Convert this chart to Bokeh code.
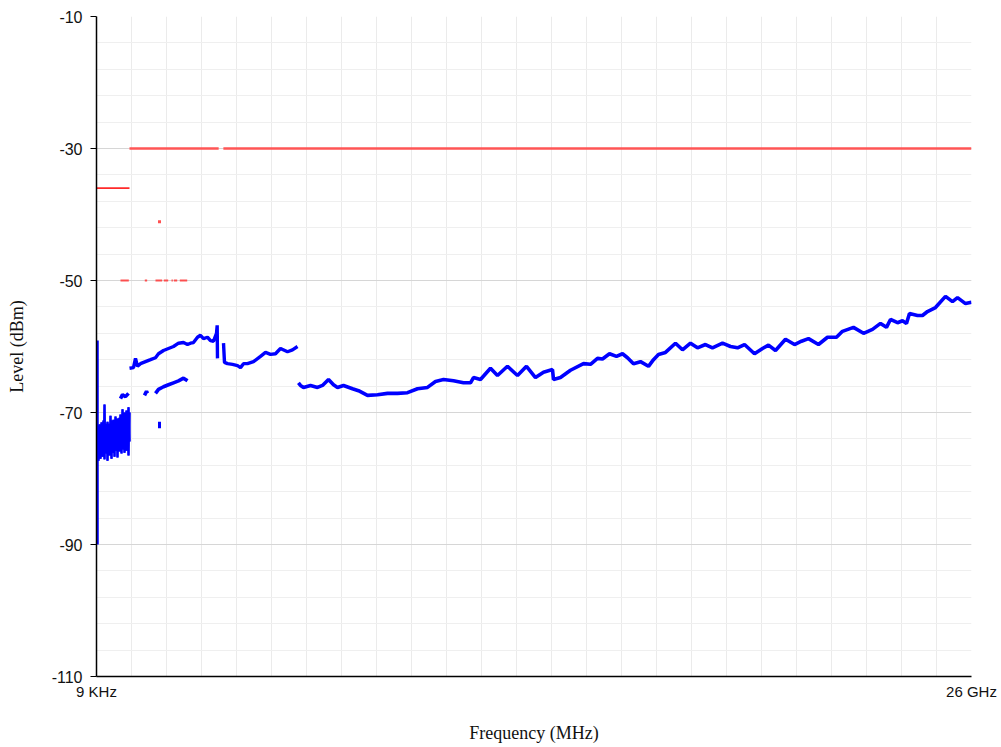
from bokeh.plotting import figure
from bokeh.models import Range1d, FixedTicker, CustomJSTickFormatter
from bokeh.embed import file_html
from bokeh.resources import INLINE

# ---------------- data (frequency in MHz, level in dBm) ----------------
band_mhz = [30, 59, 89, 119, 149, 178, 208, 238, 267, 297, 327, 357, 386, 416, 446, 475,
            505, 535, 565, 594, 624, 654, 683, 713, 743, 773, 802, 832, 862, 891, 921, 951, 981]
band_hi = [-72.0, -72.7, -71.8, -72.4, -71.5, -72.1, -71.2, -68.8, -71.7, -72.3, -71.4, -72.0,
           -71.7, -70.5, -71.2, -71.8, -71.1, -71.5, -70.6, -71.4, -70.9, -71.7, -70.8, -70.3,
           -71.2, -69.5, -70.3, -70.0, -70.9, -69.7, -70.2, -69.2, -70.0]
band_lo = [-76.5, -77.3, -76.1, -77.0, -75.5, -76.7, -75.8, -77.1, -75.3, -76.2, -77.3, -75.6,
           -76.5, -75.9, -77.0, -75.2, -76.1, -76.7, -75.5, -75.8, -76.8, -75.0, -75.9, -75.3,
           -76.2, -74.8, -75.6, -76.1, -75.0, -75.8, -75.3, -76.5, -74.4]
spike_mhz = [30, 30]
spike_db = [-59.1, -90.0]

b1_mhz = [981, 1099, 1159, 1218, 1307, 1456, 1605, 1753, 1842, 1991, 2139, 2288, 2437, 2585,
          2704, 2793, 2882, 3001, 3090, 3179, 3298, 3387, 3477, 3566, 3586, 3595]
b1_db = [-63.3, -63.2, -61.8, -63.0, -62.6, -62.3, -62.0, -61.7, -61.1, -60.6, -60.3, -60.0,
         -59.5, -59.4, -59.7, -59.5, -59.4, -58.6, -58.3, -58.8, -58.6, -59.1, -59.2, -58.0,
         -56.8, -61.8]
b2_mhz = [3774, 3803, 3893, 4041, 4190, 4279, 4368, 4487, 4665, 4873, 5022, 5170, 5319, 5467,
          5675, 5824, 5973]
b2_db = [-59.5, -62.4, -62.6, -62.7, -62.9, -63.2, -62.6, -62.6, -62.3, -61.5, -60.9, -61.2,
         -61.1, -60.3, -60.8, -60.5, -60.0]

main_mhz = [6000, 6062, 6151, 6359, 6567, 6715, 6894, 7042, 7161, 7339, 7607, 7785, 8053, 8350,
            8647, 8944, 9241, 9538, 9835, 10073, 10311, 10608, 10905, 11113, 11202, 11410,
            11707, 11915, 12212, 12510, 12777, 13044, 13282, 13550, 13579, 13787, 14084,
            14471, 14679, 14887, 15035, 15243, 15451, 15630, 15778, 15957, 16164, 16402,
            16551, 16699, 16907, 17204, 17412, 17650, 17858, 18095, 18303, 18601, 18839,
            19047, 19255, 19552, 19790, 19968, 20176, 20473, 20741, 20948, 21156, 21453,
            21721, 21988, 22166, 22493, 22791, 23058, 23296, 23474, 23593, 23801, 23950,
            24068, 24157, 24395, 24544, 24692, 24930, 25227, 25435, 25584, 25822, 26000]
main_db = [-65.5, -65.9, -66.2, -65.9, -66.2, -65.9, -65.0, -65.8, -66.2, -65.9, -66.4, -66.7,
           -67.4, -67.3, -67.1, -67.1, -67.0, -66.4, -66.2, -65.3, -65.0, -65.2, -65.5, -65.5,
           -64.7, -65.0, -63.3, -64.4, -63.0, -64.4, -63.0, -64.7, -63.9, -63.5, -65.0, -64.7,
           -63.6, -62.6, -62.7, -61.8, -61.9, -61.1, -61.5, -61.1, -61.7, -62.6, -62.3, -63.0,
           -62.0, -61.2, -60.9, -59.5, -60.5, -59.5, -60.2, -59.7, -60.2, -59.5, -60.0, -60.2,
           -59.7, -61.1, -60.3, -59.8, -60.6, -58.9, -59.7, -59.2, -58.8, -59.7, -58.6, -58.6,
           -57.7, -57.1, -58.0, -57.4, -56.5, -57.1, -55.9, -56.4, -56.1, -56.5, -55.0, -55.3,
           -55.3, -54.7, -54.1, -52.4, -53.2, -52.6, -53.5, -53.3]

frag1_mhz = [713, 773, 862, 951]
frag1_db = [-67.9, -67.3, -67.6, -67.1]
frag2_mhz = [1426, 1486, 1515]
frag2_db = [-67.4, -66.8, -67.1]
frag3_mhz = [1753, 1842, 1991, 2139, 2288, 2437, 2585, 2704]
frag3_db = [-67.1, -66.5, -66.1, -65.8, -65.5, -65.2, -64.8, -65.2]
blip_mhz = [1872, 1872]
blip_db = [-71.4, -72.4]

lim36_x0, lim36_x1, lim36_db = [0.009], [980], [-36]
lim30_x0 = [980, 3770]
lim30_x1 = [3630, 26000]
lim30_db = [-30, -30]
dash_x0 = [713, 1435, 1753, 2000, 2229, 2298, 2475]
dash_x1 = [960, 1505, 1951, 2130, 2268, 2398, 2695]
dash_db = [-50, -50, -50, -50, -50, -50, -50]
dot_mhz = [1872]
dot_db = [-41.1]

y_ticks = [-110, -90, -70, -50, -30, -10]
x_labels = ["9 KHz", "26 GHz"]

# ---------------- figure ----------------
X0, X1 = 0.009, 26000
p = figure(width=1000, height=746, x_range=Range1d(X0, X1), y_range=Range1d(-110, -10),
           output_backend="svg", toolbar_location=None,
           min_border_left=96, min_border_right=29, min_border_top=16, min_border_bottom=70)
p.outline_line_color = None
p.background_fill_color = "white"
p.border_fill_color = "white"

p.xaxis.ticker = FixedTicker(ticks=[X0, X1], minor_ticks=[])
p.xaxis.formatter = CustomJSTickFormatter(
    args=dict(a=x_labels[0], b=x_labels[1]), code="return tick < 1 ? a : b;")
p.yaxis.ticker = FixedTicker(ticks=y_ticks, minor_ticks=list(range(-110, -9, 4)))
p.yaxis.formatter = CustomJSTickFormatter(code="return String(Math.round(tick));")

for ax in (p.xaxis[0], p.yaxis[0]):
    ax.axis_line_color = "black"
    ax.axis_line_width = 1.5
    ax.major_tick_line_color = "black"
    ax.major_tick_in = 0
    ax.minor_tick_in = 0
    ax.minor_tick_out = 0
    ax.major_label_text_font = "Liberation Sans"
    ax.major_label_text_color = "#111111"
    ax.axis_label_text_font = "Liberation Serif"
    ax.axis_label_text_font_size = "18px"
    ax.axis_label_text_font_style = "normal"
    ax.axis_label_text_color = "#111111"

p.xaxis.major_label_text_font_size = "15px"
p.yaxis.major_label_text_font_size = "16px"

p.xaxis.major_tick_out = 0
p.xaxis.major_label_standoff = 6
p.xaxis.axis_label = "Frequency (MHz)"
p.xaxis.axis_label_standoff = 20

p.yaxis.major_tick_out = 6
p.yaxis.major_label_standoff = 8
p.yaxis.axis_label = "Level (dBm)"
p.yaxis.axis_label_standoff = 22

p.xgrid.ticker = FixedTicker(ticks=[X0 + k * (X1 - X0) / 25 for k in range(26)])
p.xgrid.grid_line_color = "#ebebeb"
p.xgrid.grid_line_width = 1
p.ygrid.grid_line_color = "#d6d6d6"
p.ygrid.grid_line_width = 1.2
p.ygrid.minor_grid_line_color = "#efefef"
p.ygrid.minor_grid_line_width = 1

p.segment(lim36_x0, lim36_db, lim36_x1, lim36_db, line_color="#ff2a2a", line_width=1.6)
p.segment(lim30_x0, lim30_db, lim30_x1, lim30_db, line_color="#ff5555", line_width=2.5)
p.segment(dash_x0, dash_db, dash_x1, dash_db, line_color="#ff4040", line_width=2.2, line_alpha=0.9)
p.scatter(dot_mhz, dot_db, marker="square", size=3, fill_color="#ff5050", line_color=None)

BLUE = "#0000ff"
zig_a = [band_hi[i] if i % 2 == 0 else band_lo[i] for i in range(len(band_mhz))]
zig_b = [band_lo[i] if i % 2 == 0 else band_hi[i] for i in range(len(band_mhz))]
p.segment(band_mhz, band_hi, band_mhz, band_lo, line_color=BLUE, line_width=2.2)
p.line(band_mhz, zig_a, line_color=BLUE, line_width=2)
p.line(band_mhz, zig_b, line_color=BLUE, line_width=2)
p.line(spike_mhz, spike_db, line_color=BLUE, line_width=2.5)

p.line(b1_mhz, b1_db, line_color=BLUE, line_width=3.4)
p.line(b2_mhz, b2_db, line_color=BLUE, line_width=3.4)
p.line(main_mhz, main_db, line_color=BLUE, line_width=3.6)
p.line(frag1_mhz, frag1_db, line_color=BLUE, line_width=3.6)
p.line(frag2_mhz, frag2_db, line_color=BLUE, line_width=3.6)
p.line(frag3_mhz, frag3_db, line_color=BLUE, line_width=3.6)
p.line(blip_mhz, blip_db, line_color=BLUE, line_width=3)

open("out.html", "w").write(file_html(p, INLINE))
